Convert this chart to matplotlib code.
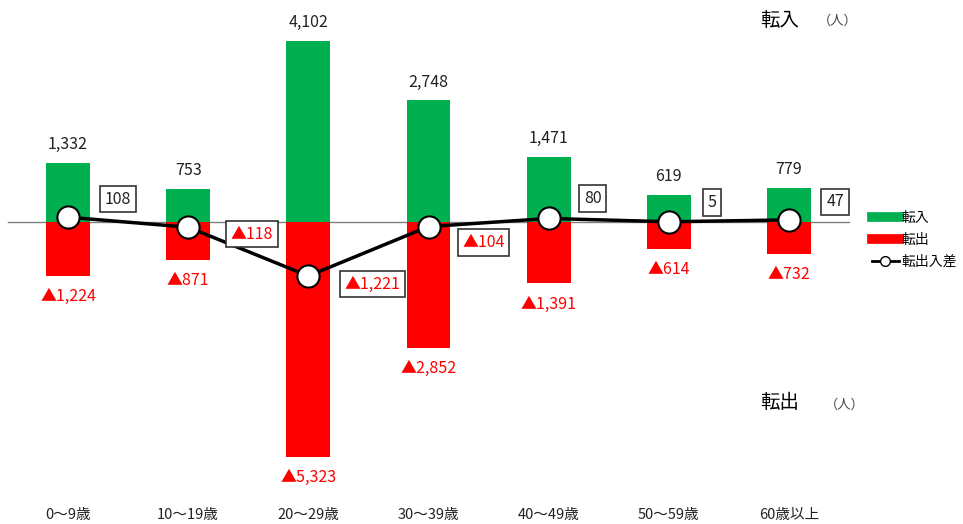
import matplotlib
matplotlib.use("Agg")
import matplotlib.pyplot as plt
from matplotlib.lines import Line2D

plt.rcParams["font.family"] = ["Noto Sans CJK JP", "DejaVu Sans"]

# data
categories = ["0～9歳", "10～19歳", "20～29歳", "30～39歳", "40～49歳", "50～59歳", "60歳以上"]
moved_in = [1332, 753, 4102, 2748, 1471, 619, 779]
moved_out = [-1224, -871, -5323, -2852, -1391, -614, -732]
net = [108, -118, -1221, -104, 80, 5, 47]

GREEN = "#00b050"
RED = "#ff0000"

# where each net label box sits relative to its marker (pixels)
net_label_offsets = [(50, 18), (64, -7), (64, -8), (55, -16), (44, 20), (43, 19), (46, 18)]


def fmt(v):
    s = "{:,}".format(abs(v))
    return ("▲" + s) if v < 0 else s


fig = plt.figure(figsize=(9.63, 5.24), dpi=100)
ax = fig.add_axes([0, 0, 1, 1])
ax.set_xlim(-0.566, 7.448)
ax.set_ylim(-6830, 5020)
ax.axis("off")

x = list(range(len(categories)))
width = 0.366

ax.plot([-0.5, 6.5], [0, 0], color="#808080", lw=1, zorder=1)
ax.bar(x, moved_in, width, color=GREEN, zorder=2)
ax.bar(x, moved_out, width, color=RED, zorder=2)
ax.plot(x, net, color="black", lw=2.5, marker="o", ms=16, mfc="white",
        mec="black", mew=1.5, zorder=4)

for xi, v in zip(x, moved_in):
    ax.annotate(fmt(v), xy=(xi, v), xytext=(0, 10), textcoords="offset pixels",
                ha="center", va="bottom", fontsize=11.5, color="#222222")
for xi, v in zip(x, moved_out):
    ax.annotate(fmt(v), xy=(xi, v), xytext=(0, -12), textcoords="offset pixels",
                ha="center", va="top", fontsize=11.5, color=RED)
for xi, v, off in zip(x, net, net_label_offsets):
    ax.annotate(fmt(v), xy=(xi, v), xytext=off, textcoords="offset pixels",
                ha="center", va="center", fontsize=11.5,
                color=RED if v < 0 else "#222222",
                bbox=dict(boxstyle="square,pad=0.3", fc="white", ec="#333333", lw=1.2),
                zorder=5)

for xi, c in zip(x, categories):
    ax.text(xi, -6620, c, ha="center", va="center", fontsize=10.5, color="#222222")

fig.text(780 / 963, 1 - 20 / 524, "転入", ha="center", va="center", fontsize=14)
fig.text(838 / 963, 1 - 21 / 524, "（人）", ha="center", va="center", fontsize=9.5, color="#444444")
fig.text(780 / 963, 1 - 403 / 524, "転出", ha="center", va="center", fontsize=14)
fig.text(845 / 963, 1 - 405 / 524, "（人）", ha="center", va="center", fontsize=9.5, color="#444444")

handles = [
    Line2D([], [], color=GREEN, lw=7),
    Line2D([], [], color=RED, lw=7),
    Line2D([], [], color="black", lw=2, marker="o", ms=7, mfc="white", mec="black"),
]
ax.legend(handles, ["転入", "転出", "転出入差"], loc="center left",
          bbox_to_anchor=(866 / 963, 1 - 240 / 524), frameon=False,
          fontsize=10, handlelength=2.0, handletextpad=0.15, labelspacing=0.55,
          borderaxespad=0)

fig.savefig("out.png", dpi=100)
